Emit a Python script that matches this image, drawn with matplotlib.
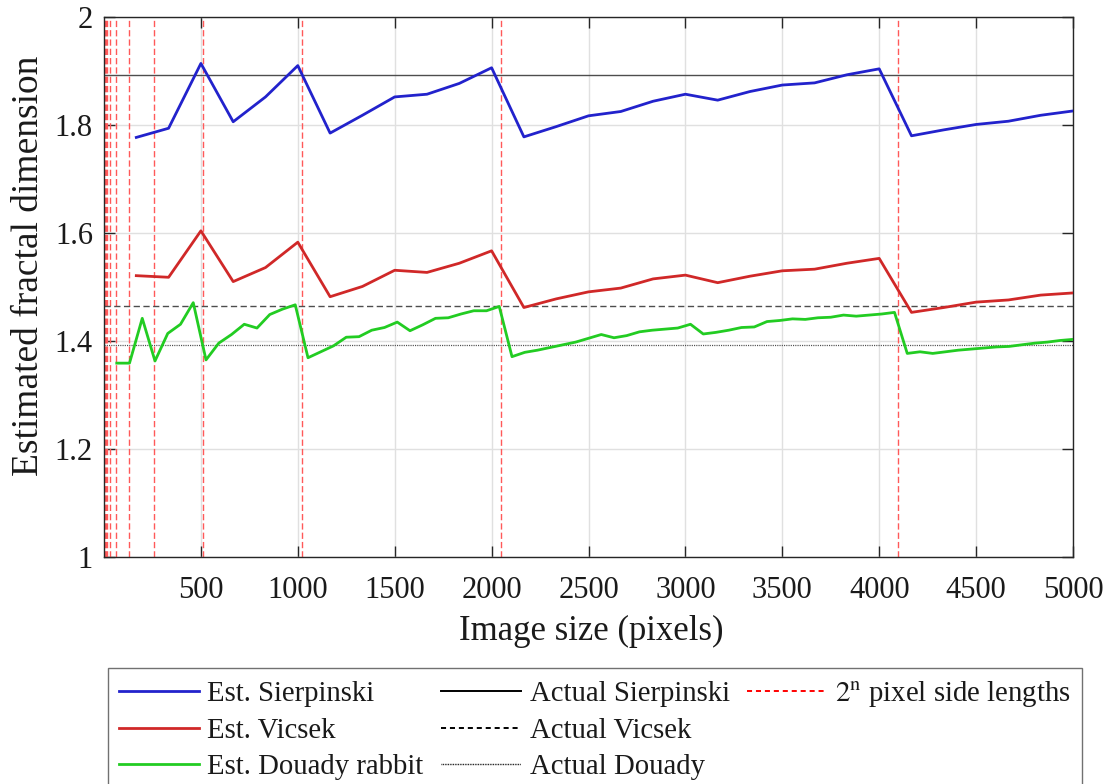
import numpy as np
import matplotlib
matplotlib.use('Agg')
import matplotlib.pyplot as plt
from matplotlib.ticker import FormatStrFormatter

# 字体设置 (Times 风格)
plt.rcParams['font.family'] = ['Liberation Serif', 'DejaVu Serif']
plt.rcParams['mathtext.fontset'] = 'stix'

# 估计分形维数 (每 5000/30 像素一个点)
x_est = [5000 / 30 * k for k in range(1, 31)]
sierpinski_est = [1.777, 1.794, 1.914, 1.806, 1.852, 1.910, 1.785, 1.818, 1.852, 1.857,
                  1.877, 1.906, 1.778, 1.797, 1.817, 1.825, 1.844, 1.857, 1.846, 1.862,
                  1.874, 1.878, 1.893, 1.904, 1.780, 1.791, 1.801, 1.807, 1.818, 1.826]
vicsek_est = [1.521, 1.518, 1.604, 1.510, 1.536, 1.583, 1.482, 1.501, 1.531, 1.527,
              1.544, 1.567, 1.462, 1.478, 1.491, 1.498, 1.515, 1.522, 1.508, 1.520,
              1.530, 1.533, 1.544, 1.553, 1.453, 1.462, 1.472, 1.476, 1.485, 1.489]

# Douady rabbit 采样更密 (5000/76)
x_douady = [5000 / 76 * k for k in range(1, 77)]
douady_est = [1.359, 1.359, 1.442, 1.363, 1.414, 1.431, 1.471, 1.365, 1.396, 1.412,
              1.431, 1.424, 1.449, 1.459, 1.467, 1.369, 1.380, 1.391, 1.407, 1.408,
              1.420, 1.425, 1.435, 1.419, 1.430, 1.442, 1.443, 1.450, 1.456, 1.456,
              1.464, 1.371, 1.379, 1.383, 1.388, 1.393, 1.398, 1.405, 1.412, 1.406,
              1.410, 1.417, 1.420, 1.422, 1.424, 1.431, 1.413, 1.416, 1.420, 1.425,
              1.426, 1.436, 1.438, 1.441, 1.440, 1.443, 1.444, 1.448, 1.446, 1.448,
              1.450, 1.453, 1.377, 1.380, 1.377, 1.380, 1.383, 1.385, 1.387, 1.389,
              1.390, 1.393, 1.396, 1.398, 1.401, 1.403]

# 理论分形维数
sierpinski_actual = np.log(8) / np.log(3)
vicsek_actual = np.log(5) / np.log(3)
douady_actual = 1.3934

pow2_sides = [2 ** n for n in range(1, 13)]

W, H = 1112, 784
fig = plt.figure(figsize=(W / 100, H / 100), dpi=100)
ax = fig.add_axes([104 / W, 1 - 557 / H, 969 / W, 540 / H])

# 2^n 竖线
for p in pow2_sides:
    ax.axvline(p, color=(1, 0.35, 0.35), lw=1, dashes=(4.5, 2.2), zorder=1)

l1, = ax.plot(x_est, sierpinski_est, color='#2222CC', lw=2.0, zorder=3)
l2, = ax.plot(x_est, vicsek_est, color='#D02828', lw=2.0, zorder=3)
l3, = ax.plot(x_douady, douady_est, color='#22CC22', lw=2.0, zorder=3)
ax.axhline(sierpinski_actual, color='0.3', lw=1.0, zorder=2)
ax.axhline(vicsek_actual, color='0.3', lw=1.0, dashes=(4.5, 2.5), zorder=2)
ax.axhline(douady_actual, color='0.3', lw=0.9, dashes=(0.9, 0.9), zorder=2)

ax.set_xlim(0, 5000)
ax.set_ylim(1, 2)
ax.set_xticks(np.arange(500, 5001, 500))
ax.set_yticks(np.arange(1, 2.01, 0.2))
ax.yaxis.set_major_formatter(FormatStrFormatter('%g'))
ax.grid(True, color='0.88', lw=1)
ax.set_axisbelow(True)
ax.tick_params(direction='in', length=8, width=1, labelsize=22, color='0.15',
               labelcolor='0.1', top=True, right=True)
ax.tick_params(axis='x', pad=14)
ax.tick_params(axis='y', pad=8)
for s in ax.spines.values():
    s.set_color('0.15')
    s.set_linewidth(1)

# 轴标签
fig.text(591 / W, 1 - 640 / H, 'Image size (pixels)', fontsize=25,
         ha='center', va='baseline', color='0.1')
fig.text(29 / W, 1 - 266 / H, 'Estimated fractal dimension', fontsize=27,
         rotation=90, ha='center', va='center', color='0.1')

# 图例放在下方 (底部被裁掉), 第三列补空白
blank = plt.Line2D([], [], alpha=0)
handles = [l1, l2, l3,
           plt.Line2D([], [], color='k', lw=1.4),
           plt.Line2D([], [], color='k', lw=1.4, dashes=(2.6, 2.0)),
           plt.Line2D([], [], color='k', lw=1.0, dashes=(0.6, 0.6)),
           plt.Line2D([], [], color='red', lw=1.4, dashes=(2.6, 2.0)),
           blank, blank]
labels = ['Est. Sierpinski', 'Est. Vicsek', 'Est. Douady rabbit',
          'Actual Sierpinski', 'Actual Vicsek', 'Actual Douady',
          '$2^{\\mathrm{n}}$ pixel side lengths', ' ', ' ']
leg = fig.legend(handles, labels, ncol=3, loc='upper left',
                 bbox_to_anchor=(108 / W, 1 - 668 / H),
                 fontsize=20.7, frameon=True, fancybox=False, edgecolor='0.3',
                 handlelength=2.8, handletextpad=0.28, columnspacing=0.6,
                 labelspacing=0.37, borderpad=0.38, borderaxespad=0)
leg.get_frame().set_linewidth(1)
for t in leg.get_texts():
    t.set_color('0.1')

fig.savefig('out.png', dpi=100)
